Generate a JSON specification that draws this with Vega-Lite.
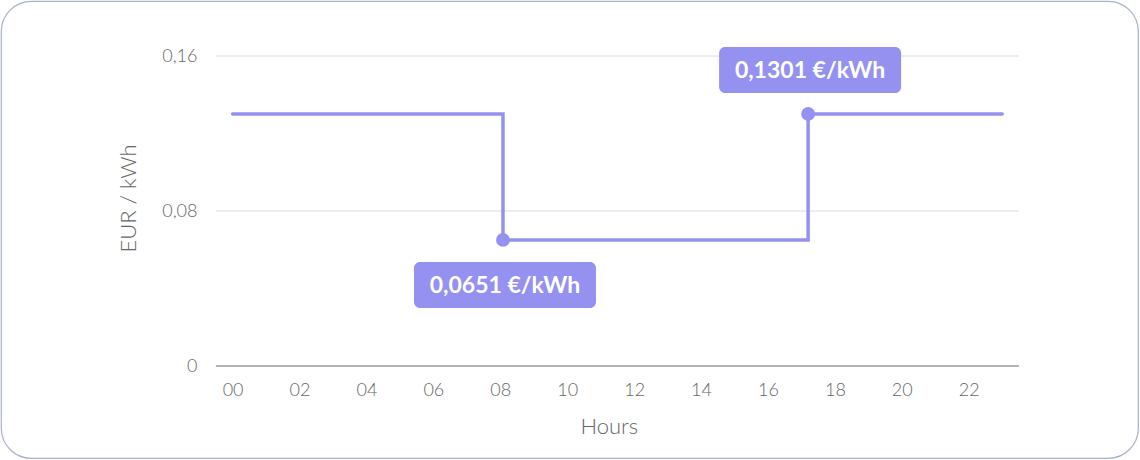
{
  "$schema": "https://vega.github.io/schema/vega-lite/v6.json",
  "description": "Hourly electricity price step chart",
  "autosize": {"type": "none"},
  "padding": {"left": 1, "top": 1, "right": 2, "bottom": 2},
  "width": 1137,
  "height": 457,
  "background": "white",
  "config": {
    "locale": {
      "number": {"decimal": ",", "thousands": ".", "grouping": [3], "currency": ["", " €/kWh"]}
    },
    "view": {"stroke": "#a9b1ca", "strokeWidth": 1.2, "cornerRadius": 30},
    "font": "Lato",
    "axis": {
      "labelFont": "Lato",
      "labelFontWeight": 300,
      "labelColor": "#666666",
      "labelFontSize": 18,
      "titleFont": "Lato",
      "titleFontWeight": 300,
      "titleColor": "#666666",
      "titleFontSize": 22,
      "grid": false,
      "domain": false,
      "ticks": false,
      "tickSize": 0
    }
  },
  "datasets": {
    "prices": [
      {"hour": 0, "price": 0.1301},
      {"hour": 8.08, "price": 0.0651},
      {"hour": 17.2, "price": 0.1301},
      {"hour": 23, "price": 0.1301}
    ],
    "changes": [
      {"hour": 8.08, "price": 0.0651},
      {"hour": 17.2, "price": 0.1301}
    ],
    "levels": [
      {"level": 0},
      {"level": 0.08},
      {"level": 0.16}
    ]
  },
  "encoding": {
    "x": {
      "type": "quantitative",
      "scale": {"domain": [-6.922, 27.059], "nice": false, "zero": false},
      "axis": {
        "title": "Hours",
        "values": [0, 2, 4, 6, 8, 10, 12, 14, 16, 18, 20, 22],
        "format": "02d",
        "offset": -92,
        "labelPadding": 15,
        "titleX": 607.7,
        "titleY": 67,
        "titleBaseline": "alphabetic",
        "titleAlign": "center"
      }
    },
    "y": {
      "type": "quantitative",
      "scale": {"domain": [-0.04748, 0.18839], "nice": false, "zero": false},
      "axis": {
        "title": "EUR / kWh",
        "values": [0, 0.08, 0.16],
        "format": ".2~f",
        "offset": -214,
        "labelPadding": 18,
        "titleX": -80,
        "titleY": 197,
        "titleAngle": -90,
        "titleBaseline": "alphabetic",
        "titleAlign": "center"
      }
    }
  },
  "layer": [
    {
      "data": {"name": "levels"},
      "mark": {"type": "rule"},
      "encoding": {
        "y": {"field": "level"},
        "x": {"datum": -0.5},
        "x2": {"datum": 23.5},
        "color": {"condition": {"test": "datum.level === 0", "value": "#b3b3b3"}, "value": "#dcdcdc"},
        "strokeWidth": {"condition": {"test": "datum.level === 0", "value": 2}, "value": 1.2}
      }
    },
    {
      "data": {"name": "prices"},
      "mark": {"type": "line", "interpolate": "step-after", "color": "#9591f1", "strokeWidth": 3.5, "strokeCap": "round", "strokeJoin": "miter"},
      "encoding": {
        "x": {"field": "hour"},
        "y": {"field": "price"}
      }
    },
    {
      "data": {"name": "changes"},
      "mark": {"type": "point", "filled": true, "opacity": 1, "color": "#9591f1", "size": 190},
      "encoding": {
        "x": {"field": "hour"},
        "y": {"field": "price"}
      }
    },
    {
      "data": {"name": "changes"},
      "transform": [{"filter": "datum.price < 0.1"}],
      "mark": {"type": "rect", "color": "#9591f1", "cornerRadius": 6, "xOffset": -89, "x2Offset": 93, "yOffset": 22, "y2Offset": 68},
      "encoding": {
        "x": {"field": "hour"},
        "x2": {"field": "hour"},
        "y": {"field": "price"},
        "y2": {"field": "price"}
      }
    },
    {
      "data": {"name": "changes"},
      "transform": [{"filter": "datum.price > 0.1"}],
      "mark": {"type": "rect", "color": "#9591f1", "cornerRadius": 6, "xOffset": -89, "x2Offset": 93, "yOffset": -67, "y2Offset": -21},
      "encoding": {
        "x": {"field": "hour"},
        "x2": {"field": "hour"},
        "y": {"field": "price"},
        "y2": {"field": "price"}
      }
    },
    {
      "data": {"name": "changes"},
      "transform": [{"filter": "datum.price < 0.1"}],
      "mark": {"type": "text", "color": "white", "font": "Lato", "fontWeight": "bold", "fontSize": 23, "align": "center", "baseline": "middle", "dx": 2, "dy": 46},
      "encoding": {
        "x": {"field": "hour"},
        "y": {"field": "price"},
        "text": {"field": "price", "type": "quantitative", "format": "$.4f"}
      }
    },
    {
      "data": {"name": "changes"},
      "transform": [{"filter": "datum.price > 0.1"}],
      "mark": {"type": "text", "color": "white", "font": "Lato", "fontWeight": "bold", "fontSize": 23, "align": "center", "baseline": "middle", "dx": 2, "dy": -43},
      "encoding": {
        "x": {"field": "hour"},
        "y": {"field": "price"},
        "text": {"field": "price", "type": "quantitative", "format": "$.4f"}
      }
    }
  ]
}
